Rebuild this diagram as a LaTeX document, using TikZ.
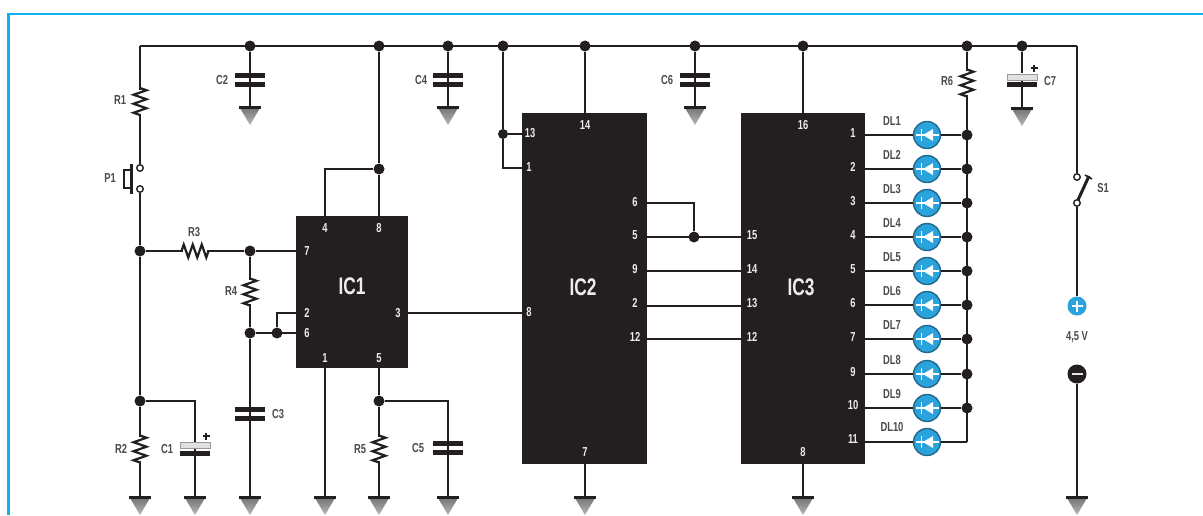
\documentclass[tikz,border=0pt]{standalone}
\usepackage{fontspec}
\setmainfont[FakeStretch=0.72]{Liberation Sans Bold}
\newcommand{\resV}[1]{%
\fill[white] (#1)++(-8,-12) rectangle ++(16,24);
\draw[wire,line width=2.2pt] (#1)++(0,-13.5) -- ++(6.5,2.25) -- ++(-13,4.5) -- ++(13,4.5) -- ++(-13,4.5) -- ++(13,4.5) -- ++(-13,4.5) -- ++(6.5,2.25);}
\newcommand{\capV}[1]{%
\fill[ink] (#1)++(-15,-7) rectangle ++(30,5);
\fill[ink] (#1)++(-15,1.5) rectangle ++(30,5);}
\newcommand{\capP}[1]{%
\fill[white] (#1)++(-16,-8) rectangle ++(32,7);
\draw[gndc,line width=0.9pt,fill=black!12] (#1)++(-15,-7) rectangle ++(30,6);
\fill[ink] (#1)++(-15,1) rectangle ++(30,5);}
\newcommand{\gnd}[1]{%
\shade[top color=black!55,bottom color=black!28] (#1)++(-10,1) -- ++(20,0) -- ++(-10,17) -- cycle;
\fill[ink] (#1)++(-11,-1.5) rectangle ++(22,3.5);}
\newcommand{\plusmark}[1]{%
\draw[ink,line width=1.3pt] (#1)++(-3.5,0) -- ++(7,0) (#1)++(0,-3.5) -- ++(0,7);
\fill[ink] (#1) circle (1.6);}
\tikzset{
  x=1pt,y=-1pt,
  wire/.style={line width=2.5pt,draw=ink,line join=miter},
  dotn/.style={circle,fill=ink,inner sep=0pt,minimum size=11pt},
  openc/.style={circle,draw=ink,fill=white,line width=1.4pt,inner sep=0pt,minimum size=6.5pt},
  ic/.style={rectangle,fill=chip,inner sep=0pt,anchor=north west},
  iclabel/.style={text=white!93!black,font=\fontsize{24}{24}\selectfont,inner sep=0pt},
  pin/.style={text=white!93!black,font=\fontsize{13}{13}\selectfont,inner sep=0pt},
  lab/.style={text=labc,font=\fontsize{13}{13}\selectfont,inner sep=0pt},
  led/.style={circle,fill=ledc,draw=ledr,line width=1.4pt,inner sep=0pt,minimum size=27pt},
}
\definecolor{ink}{HTML}{231F20}
\definecolor{chip}{HTML}{231F20}
\definecolor{gndc}{HTML}{9A9A9A}
\definecolor{labc}{HTML}{4A4A4A}
\definecolor{ledc}{HTML}{2AA3DC}
\definecolor{ledr}{HTML}{23688C}
\definecolor{framec}{HTML}{0DB2EC}
\begin{document}
\begin{tikzpicture}
\useasboundingbox (0,0) rectangle (1203,515);
\fill[white] (0,0) rectangle (1203,515);
% frame
\draw[framec,line width=2.8pt] (8.5,515) -- (8.5,14) -- (1203,14);
% ICs
\node[ic,minimum width=112pt,minimum height=152pt] (ic1) at (296,216) {};
\node[ic,minimum width=125pt,minimum height=351pt] (ic2) at (522,113) {};
\node[ic,minimum width=124pt,minimum height=351pt] (ic3) at (741,113) {};
\node[iclabel] (ic1l) at (352,286) {IC1};
\node[iclabel] (ic2l) at (583,287) {IC2};
\node[iclabel] (ic3l) at (801,287) {IC3};
% pin points on the chip edges
\foreach \n/\x/\y in {a4/325/216,a8/379/216,a7/296/251,a2/296/313,a6/296/333,a3/408/313,a1/325/368,a5/379/368,
  b13/522/134,b1/522/168,b14/585/113,b8/522/313,b7/585/464,b6/647/203,b5/647/237,b9/647/271,b2/647/306,b12/647/339,
  c15/741/237,c14/741/271,c13/741/306,c12/741/339,c16/803/113,c8/803/464}
  \coordinate (\n) at (\x,\y);
% rail junctions
\foreach \n/\x in {ja/250,jb/379,jc/448,jd/503,je/585,jf/695,jg/803,jh/967,ji/1022}
  \node[dotn] (\n) at (\x,46) {};
\coordinate (tl) at (140,46);
\coordinate (tr) at (1077,46);
\draw[wire] (tl) -- (tr);
% left branch
\node[openc] (p1a) at (140,168) {};
\node[openc] (p1b) at (140,189) {};
\node[dotn] (j3) at (140,251) {};
\node[dotn] (j4) at (140,401) {};
\coordinate (g1) at (140,497);
\draw[wire] (tl) -- (p1a);
\draw[wire] (p1b) -- (j3);
\draw[wire] (j3) -- (j4);
\draw[wire] (j4) -- (g1);
\resV{140,101.5}
\resV{140,449}
\draw[ink,line width=2.8pt] (131.5,164) -- (131.5,194);
\draw[ink,line width=1.2pt] (130,170) -- (124,170) -- (124,188) -- (130,188);
\node[lab] (tr1) at (120,100) {R1};
\node[lab] (tp1) at (110,178) {P1};
\node[lab] (tr2) at (121,449) {R2};
\gnd{g1}
% C1
\coordinate (g2) at (195,497);
\draw[wire] (j4) -| (g2);
\capP{195,449.5}
\plusmark{206,436}
\node[lab] (tc1) at (167,449) {C1};
\gnd{g2}
% R3
\node[dotn] (j5) at (250,251) {};
\draw[wire] (j3) -- (j5);
\draw[wire] (j5) -- (a7);
\fill[white] (183,243) rectangle (207,259);
\draw[wire,line width=2.2pt] (181.5,251) -- ++(2.25,-6.5) -- ++(4.5,13) -- ++(4.5,-13) -- ++(4.5,13) -- ++(4.5,-13) -- ++(4.5,13) -- ++(2.25,-6.5);
\node[lab] (tr3) at (194,232) {R3};
% R4 and C3
\node[dotn] (j6) at (250,333) {};
\node[dotn] (j7) at (277,333) {};
\coordinate (g3) at (250,497);
\draw[wire] (j5) -- (j6);
\draw[wire] (j6) -- (g3);
\draw[wire] (j6) -- (a6);
\draw[wire] (j7) |- (a2);
\resV{250,292}
\node[lab] (tr4) at (231,291) {R4};
\capV{250,414}
\node[lab] (tc3) at (278,414) {C3};
\gnd{g3}
% IC1 pin wires
\node[dotn] (j8) at (379,169) {};
\draw[wire] (jb) -- (j8);
\draw[wire] (j8) -- (a8);
\draw[wire] (j8) -| (a4);
\coordinate (g4) at (325,497);
\draw[wire] (a1) -- (g4);
\gnd{g4}
\node[dotn] (j9) at (379,401) {};
\coordinate (g5) at (379,497);
\coordinate (g6) at (448,497);
\draw[wire] (a5) -- (j9);
\draw[wire] (j9) -- (g5);
\draw[wire] (j9) -| (g6);
\resV{379,449}
\node[lab] (tr5) at (360,449) {R5};
\capV{448,448}
\node[lab] (tc5) at (418,448) {C5};
\gnd{g5}
\gnd{g6}
% C2 C4 C6
\foreach \n/\x in {ja/250,jc/448,jf/695}{
  \coordinate (gg\n) at (\x,107);
  \draw[wire] (\n) -- (gg\n);
  \capV{\x,80}
  \gnd{gg\n}
}
\node[lab] (tc2) at (222,80) {C2};
\node[lab] (tc4) at (421,80) {C4};
\node[lab] (tc6) at (667,80) {C6};
% C7
\coordinate (g7) at (1022,108);
\draw[wire] (ji) -- (g7);
\capP{1022,81}
\plusmark{1034,68}
\gnd{g7}
\node[lab] (tc7) at (1050,81) {C7};
% IC2 and IC3 wires
\node[dotn,minimum size=10pt] (j10) at (503,134) {};
\draw[wire] (jd) -- (j10);
\draw[wire] (j10) -- (b13);
\draw[wire] (j10) |- (b1);
\draw[wire] (je) -- (b14);
\draw[wire] (jg) -- (c16);
\draw[wire] (a3) -- (b8);
\coordinate (g8) at (585,497);
\coordinate (g9) at (803,497);
\draw[wire] (b7) -- (g8);
\draw[wire] (c8) -- (g9);
\gnd{g8}
\gnd{g9}
\node[dotn] (j11) at (694,237) {};
\draw[wire] (b6) -| (j11);
\draw[wire] (b5) -- (c15);
\draw[wire] (b9) -- (c14);
\draw[wire] (b2) -- (c13);
\draw[wire] (b12) -- (c12);
% pins
\foreach \x/\y/\t in {325/228/4,379/228/8,307/251/7,307/313/2,307/333/6,398/313/3,325/358/1,379/358/5,
  530/133/13,529/167/1,585/125/14,529/312/8,585/452/7,
  635/202/6,635/235/5,635/269/9,635/303/2,635/337/12,
  752/235/15,752/269/14,752/303/13,752/337/12,
  803/125/16,803/452/8,
  853/133/1,853/167/2,853/201/3,853/235/4,853/269/5,853/303/6,853/337/7,853/372/9,853/405/10,853/439/11}
  \node[pin] at (\x,\y) {\t};
% right bus with LEDs
\coordinate (busend) at (967,442);
\draw[wire] (jh) -- (busend);
\foreach \i/\y/\t in {1/135/DL1,2/169/DL2,3/203/DL3,4/237/DL4,5/271/DL5,6/305/DL6,7/339/DL7,8/374/DL8,9/408/DL9}{
  \coordinate (o\i) at (865,\y);
  \node[led] (d\i) at (927,\y) {};
  \node[dotn] (k\i) at (967,\y) {};
  \draw[wire] (o\i) -- (d\i);
  \draw[wire] (d\i) -- (k\i);
  \node[lab] at (892,\y-14) {\t};
}
\coordinate (o10) at (865,442);
\node[led] (d10) at (927,442) {};
\draw[wire] (o10) -- (d10);
\draw[wire] (d10) -- (busend);
\node[lab] at (892,427) {DL10};
\resV{967,83}
\node[lab] (tr6) at (947,81) {R6};
\foreach \y in {135,169,203,237,271,305,339,374,408,442}{
  \draw[white,line width=1.8pt] (916,\y) -- (939,\y);
  \draw[white,line width=1.8pt] (921.5,\y-6) -- (921.5,\y+6);
  \fill[white] (923,\y) -- (933,\y-6) -- (933,\y+6) -- cycle;
}
% S1 and battery
\node[openc] (s1a) at (1077,177) {};
\node[openc] (s1b) at (1077,203) {};
\node[circle,fill=ledc,inner sep=0pt,minimum size=19pt] (bp) at (1077,306) {};
\node[circle,fill=ink,inner sep=0pt,minimum size=19pt] (bm) at (1077,374) {};
\coordinate (g10) at (1077,497);
\draw[wire] (tr) -- (s1a);
\draw[wire] (s1b) -- (bp);
\draw[wire] (bm) -- (g10);
\draw[ink,line width=3pt] (1078,200) -- (1089,176);
\draw[ink,line width=1.6pt] (1085,175) -- (1092,179);
\draw[white,line width=2.4pt] (1071.5,306) -- (1082.5,306) (1077,300.5) -- (1077,311.5);
\draw[white!90!black,line width=2.4pt] (1071.5,374) -- (1082.5,374);
\gnd{g10}
\node[lab] (ts1) at (1103,188) {S1};
\node[lab] (tv) at (1077,337) {4,5 V};
\end{tikzpicture}
\end{document}
